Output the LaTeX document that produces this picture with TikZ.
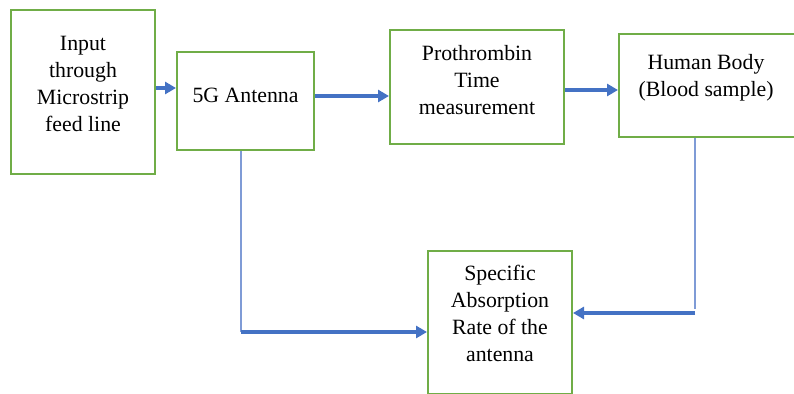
\documentclass[tikz,border=0pt]{standalone}
\usepackage{fontspec}
\setmainfont{Liberation Serif}
\usetikzlibrary{arrows.meta}
\definecolor{boxgreen}{HTML}{70AD47}
\definecolor{arrblue}{HTML}{4472C4}
\definecolor{thinblue}{HTML}{7F9BD6}
\begin{document}
\begin{tikzpicture}[x=1pt,y=-1pt,
  box/.style={draw=boxgreen, line width=2pt, inner sep=0pt},
  txt/.style={align=center, font=\fontsize{21.8}{27}\selectfont, text=black, inner sep=0pt},
  arr/.style={draw=arrblue, line width=3.4pt, -{Triangle[length=11pt,width=12pt]}},
  thin/.style={draw=thinblue, line width=1.2pt}]
\useasboundingbox (0,0) rectangle (794,393);
% boxes
\node[box, minimum width=144pt, minimum height=164pt] (in) at (83,92) {};
\node[box, minimum width=137pt, minimum height=98pt] (ant) at (245.5,101) {};
\node[box, minimum width=174pt, minimum height=114pt] (pt) at (477,87) {};
\node[box, minimum width=176pt, minimum height=103pt] (hb) at (707,85.5) {};
\node[box, minimum width=144pt, minimum height=143pt] (sar) at (500,322.5) {};
% texts
\node[txt] (tin) at (83,84) {Input\\through\\Microstrip\\feed line};
\node[txt] (tant) at (245.5,95) {5G Antenna};
\node[txt] (tpt) at (477,80) {Prothrombin\\Time\\measurement};
\node[txt] (thb) at (706,78) {Human Body\\(Blood sample)};
\node[txt] (tsar) at (500,313) {Specific\\Absorption\\Rate of the\\antenna};
% coordinates
\coordinate (c1) at (241,332);
\coordinate (c2) at (695,313);
% arrows
\draw[arr] (in.east |- 0,88) -- (ant.west |- 0,88);
\draw[arr] (ant.east |- 0,96) -- (pt.west |- 0,96);
\draw[arr] (pt.east |- 0,90) -- (hb.west |- 0,90);
\draw[thin] (ant.south -| c1) -- (c1);
\draw[arr] (c1) -- (sar.west |- c1);
\draw[thin] (hb.south -| c2) -- ([yshift=4pt]c2);
\draw[arr] (c2) -- (sar.east |- c2);
\end{tikzpicture}
\end{document}
